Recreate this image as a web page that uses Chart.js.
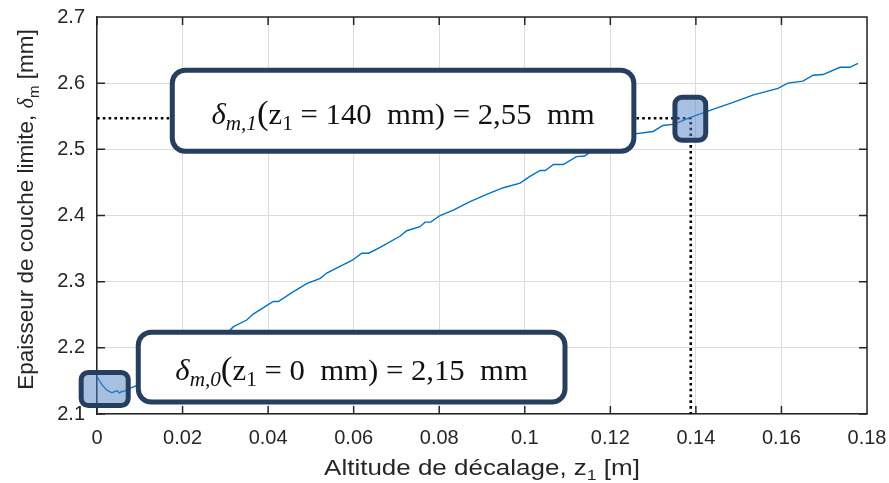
<!DOCTYPE html>
<html><head><meta charset="utf-8">
<script src="https://cdn.jsdelivr.net/npm/chart.js@4.4.1/dist/chart.umd.min.js"></script>
<style>html,body{margin:0;padding:0;background:#fff}canvas{display:block}</style>
</head><body>
<canvas id="c" width="889" height="483"></canvas>
<script>
// ---- data ----
const altitudeM = [0, 0.0012, 0.0023, 0.0035, 0.0041, 0.0047, 0.0052, 0.0058, 0.0065, 0.0078,
  0.0097, 0.0113, 0.0128, 0.0148, 0.0171, 0.0195, 0.0226, 0.0257, 0.0288, 0.0319,
  0.035, 0.0365, 0.038, 0.0412, 0.0424, 0.0452, 0.049, 0.0522, 0.0537, 0.0568,
  0.0596, 0.0619, 0.0635, 0.0662, 0.0709, 0.0724, 0.0755, 0.0767, 0.078, 0.0802,
  0.0833, 0.0872, 0.0911, 0.095, 0.0989, 0.1012, 0.1036, 0.1048, 0.1067, 0.109,
  0.1121, 0.114, 0.116, 0.12, 0.1253, 0.13, 0.1323, 0.135, 0.1386, 0.1433,
  0.1487, 0.1533, 0.1592, 0.1615, 0.165, 0.1674, 0.1697, 0.1737, 0.176, 0.1779];
const thicknessMm = [2.156, 2.144, 2.136, 2.132, 2.134, 2.135, 2.132, 2.134, 2.135, 2.139,
  2.144, 2.149, 2.156, 2.161, 2.169, 2.177, 2.189, 2.200, 2.212, 2.232,
  2.242, 2.251, 2.257, 2.270, 2.270, 2.282, 2.297, 2.305, 2.313, 2.323,
  2.332, 2.343, 2.343, 2.352, 2.369, 2.377, 2.383, 2.390, 2.390, 2.400,
  2.408, 2.421, 2.432, 2.442, 2.449, 2.459, 2.468, 2.468, 2.477, 2.477,
  2.489, 2.490, 2.499, 2.506, 2.523, 2.527, 2.536, 2.538, 2.548, 2.559,
  2.571, 2.582, 2.592, 2.600, 2.603, 2.612, 2.613, 2.624, 2.624, 2.630];
const xTickValues = [0, 0.02, 0.04, 0.06, 0.08, 0.1, 0.12, 0.14, 0.16, 0.18];
const yTickValues = [2.1, 2.2, 2.3, 2.4, 2.5, 2.6, 2.7];
const markerAltitude = 0.1388;   // z1 = 140 mm
const markerThickness = 2.547;   // delta_m,1 = 2,55 mm
const startAltitude = 0;

// annotation boxes placed in data units
const highlightBoxes = [
  {x0: -0.0037, x1: 0.0073, y0: 2.1128, y1: 2.1627},
  {x0: 0.1351, x1: 0.1423, y0: 2.5137, y1: 2.5787}
];
const labelBoxes = [
  {x0: 0.0176, x1: 0.1255, y0: 2.497, y1: 2.6195, idx: '1', z: '140', val: '2,55'},
  {x0: 0.00965, x1: 0.1094, y0: 2.118, y1: 2.2237, idx: '0', z: '0', val: '2,15'}
];

const INK = '#262626';
const NAVY = '#263f5f';
const SANS = '"Liberation Sans", Arial, Helvetica, sans-serif';
const SERIF = '"Liberation Serif", "DejaVu Serif", serif';

function roundRect(ctx, x, y, w, h, r) {
  ctx.beginPath();
  ctx.moveTo(x + r, y);
  ctx.lineTo(x + w - r, y); ctx.arcTo(x + w, y, x + w, y + r, r);
  ctx.lineTo(x + w, y + h - r); ctx.arcTo(x + w, y + h, x + w - r, y + h, r);
  ctx.lineTo(x + r, y + h); ctx.arcTo(x, y + h, x, y + h - r, r);
  ctx.lineTo(x, y + r); ctx.arcTo(x, y, x + r, y, r);
  ctx.closePath();
}

function drawParts(ctx, parts, cx, baseline, sx) {
  sx = sx || 1;
  let w = 0;
  parts.forEach(p => { ctx.font = p.font; p.w = ctx.measureText(p.t).width; w += p.w; });
  ctx.save();
  ctx.translate(cx, baseline);
  ctx.scale(sx, 1);
  let x = -w / 2;
  ctx.textAlign = 'left';
  ctx.textBaseline = 'alphabetic';
  parts.forEach(p => { ctx.font = p.font; ctx.fillText(p.t, x, (p.dy || 0)); x += p.w; });
  ctx.restore();
}

const framePlugin = {
  id: 'frame',
  beforeDatasetsDraw(chart) {
    const {ctx, chartArea: a, scales: {x, y}} = chart;
    ctx.save();
    ctx.strokeStyle = INK; ctx.lineWidth = 1.5;
    ctx.beginPath();
    ctx.moveTo(a.left, a.top); ctx.lineTo(a.right, a.top); ctx.lineTo(a.right, a.bottom);
    const L = 8;
    xTickValues.forEach(v => {
      const px = x.getPixelForValue(v);
      ctx.moveTo(px, a.bottom); ctx.lineTo(px, a.bottom - L);
      ctx.moveTo(px, a.top); ctx.lineTo(px, a.top + L);
    });
    yTickValues.forEach(v => {
      const py = y.getPixelForValue(v);
      ctx.moveTo(a.left, py); ctx.lineTo(a.left + L, py);
      ctx.moveTo(a.right, py); ctx.lineTo(a.right - L, py);
    });
    ctx.stroke();
    ctx.restore();
  },
  afterDatasetsDraw(chart) {
    const {ctx, scales: {x, y}} = chart;
    ctx.save();
    labelBoxes.forEach(b => {
      const l = x.getPixelForValue(b.x0), r = x.getPixelForValue(b.x1);
      const t = y.getPixelForValue(b.y1), bt = y.getPixelForValue(b.y0);
      roundRect(ctx, l, t, r - l, bt - t, 13);
      ctx.fillStyle = '#fff'; ctx.fill();
      ctx.lineWidth = 5; ctx.strokeStyle = NAVY; ctx.stroke();
      ctx.fillStyle = '#111';
      const fs = 29, ss = 20;
      drawParts(ctx, [
        {t: 'δ', font: `italic ${fs}px ${SERIF}`},
        {t: 'm,' + b.idx, font: `italic ${ss}px ${SERIF}`, dy: 6},
        {t: '(', font: `${fs + 4}px ${SERIF}`},
        {t: 'z', font: `${fs}px ${SERIF}`},
        {t: '1', font: `${ss}px ${SERIF}`, dy: 6},
        {t: ' = ' + b.z + '  mm) = ' + b.val + '  mm', font: `${fs}px ${SERIF}`}
      ], (l + r) / 2, (t + bt) / 2 + 13, 1.06);
    });
    highlightBoxes.forEach(b => {
      const l = x.getPixelForValue(b.x0), r = x.getPixelForValue(b.x1);
      const t = y.getPixelForValue(b.y1), bt = y.getPixelForValue(b.y0);
      roundRect(ctx, l, t, r - l, bt - t, 7);
      ctx.fillStyle = 'rgba(80,130,195,0.5)'; ctx.fill();
      ctx.lineWidth = 5; ctx.strokeStyle = NAVY; ctx.stroke();
    });
    ctx.restore();
  },
  afterDraw(chart) {
    const {ctx, chartArea: a} = chart;
    ctx.save();
    ctx.fillStyle = INK;
    drawParts(ctx, [
      {t: 'Altitude de décalage, z', font: `22px ${SANS}`},
      {t: '1', font: `15px ${SANS}`, dy: 5},
      {t: ' [m]', font: `22px ${SANS}`}
    ], (a.left + a.right) / 2, 475, 1.18);
    ctx.translate(33, (a.top + a.bottom) / 2 - 6);
    ctx.rotate(-Math.PI / 2);
    drawParts(ctx, [
      {t: 'Epaisseur de couche limite, ', font: `22.5px ${SANS}`},
      {t: 'δ', font: `italic 22.5px ${SERIF}`},
      {t: 'm', font: `15px ${SANS}`, dy: 6},
      {t: ' [mm]', font: `22.5px ${SANS}`}
    ], 0, 0);
    ctx.restore();
  }
};

const curve = altitudeM.map((v, i) => ({x: v, y: thicknessMm[i]}));

new Chart(document.getElementById('c'), {
  type: 'line',
  data: {
    datasets: [
      {data: curve, borderColor: '#0072BD', borderWidth: 1.4, pointRadius: 0, tension: 0, fill: false},
      {data: [{x: startAltitude, y: markerThickness}, {x: markerAltitude, y: markerThickness}, {x: markerAltitude, y: 2.1}],
       borderColor: '#000', borderWidth: 2.6, borderDash: [2.6, 3.2], pointRadius: 0, tension: 0, fill: false}
    ]
  },
  options: {
    responsive: false,
    animation: false,
    devicePixelRatio: 1,
    layout: {padding: {left: 0, right: 22, top: 17, bottom: 0}},
    plugins: {legend: {display: false}, tooltip: {enabled: false}, title: {display: false}},
    scales: {
      x: {
        type: 'linear', min: 0, max: 0.18,
        afterBuildTicks: s => { s.ticks = xTickValues.map(v => ({value: v})); },
        afterFit: s => { s.height = 69; s.paddingLeft = 0; s.paddingRight = 0; },
        ticks: {callback: v => String(+v.toFixed(2)), color: INK, font: {family: SANS, size: 20}, padding: 12, maxRotation: 0},
        grid: {color: '#dcdcdc', lineWidth: 1, drawTicks: false},
        border: {display: true, color: INK, width: 1.5}
      },
      y: {
        type: 'linear', min: 2.1, max: 2.7,
        afterBuildTicks: s => { s.ticks = yTickValues.map(v => ({value: v})); },
        afterFit: s => { s.width = 97; s.paddingTop = 0; s.paddingBottom = 0; },
        ticks: {callback: v => String(+v.toFixed(1)), color: INK, font: {family: SANS, size: 20}, padding: 12},
        grid: {color: '#dcdcdc', lineWidth: 1, drawTicks: false},
        border: {display: true, color: INK, width: 1.5}
      }
    }
  },
  plugins: [framePlugin]
});
</script>
</body></html>
